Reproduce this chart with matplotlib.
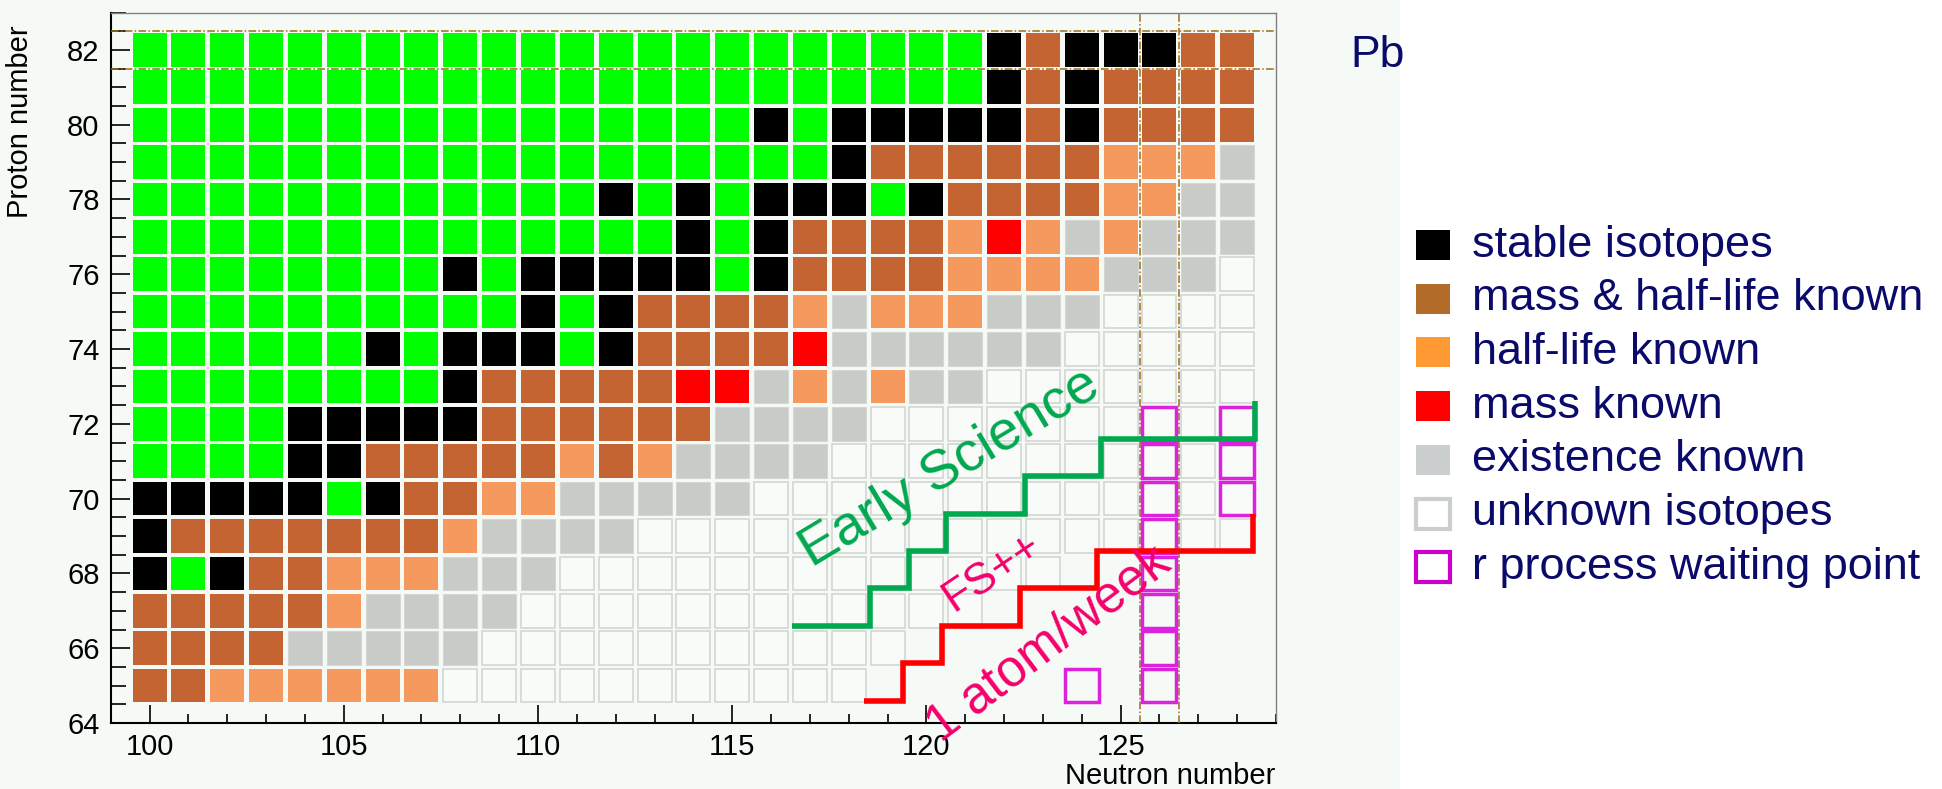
import matplotlib
matplotlib.use("Agg")
import matplotlib.pyplot as plt
from matplotlib.patches import Rectangle

plt.rcParams["font.family"] = ["Liberation Sans", "DejaVu Sans"]

# neutron numbers of the columns and proton numbers of the rows (top row first)
N_VALUES = list(range(100, 129))
Z_VALUES = list(range(82, 64, -1))

# one character per isotope, N = 100 ... 128
# G green (not in legend), K stable, B mass & half-life, O half-life,
# R mass, S existence, U unknown, . nothing drawn
ROWS = [
    "GGGGGGGGGGGGGGGGGGGGGGKBKKKBB",  # 82
    "GGGGGGGGGGGGGGGGGGGGGGKBKBBBB",  # 81
    "GGGGGGGGGGGGGGGGKGKKKKKBKBBBB",  # 80
    "GGGGGGGGGGGGGGGGGGKBBBBBBOOOS",  # 79
    "GGGGGGGGGGGGKGKGKKKGKBBBBOOSS",  # 78
    "GGGGGGGGGGGGGGKGKBBBBOROSOSSS",  # 77
    "GGGGGGGGKGKKKKKGKBBBBOOOOSSSU",  # 76
    "GGGGGGGGGGKGKBBBBOSOOOSSSUUUU",  # 75
    "GGGGGGKGKKKGKBBBBRSSSSSSUUUUU",  # 74
    "GGGGGGGGKBBBBBRRSOSOSSUUUUUUU",  # 73
    "GGGGKKKKKBBBBBBSSSSUUUUUUUUUU",  # 72
    "GGGGKKBBBBBOBOSSSSUUUUUUUUUUU",  # 71
    "KKKKKGKBBOOSSSSSUUUUUUUUUUUUU",  # 70
    "KBBBBBBBOSSSSUUUUUUUUUUUUUUUU",  # 69
    "KGKBBOOOSSSUUUUUUUUUUUUU.....",  # 68
    "BBBBBOSSSSUUUUUUUUUUUU.......",  # 67
    "BBBBSSSSSUUUUUUUUUUU.........",  # 66
    "BBOOOOOOUUUUUUUUUUU..........",  # 65
]

WAITING_N = [124, 126, 126, 126, 126, 126, 126, 126, 126, 128, 128, 128]
WAITING_Z = [65, 65, 66, 67, 68, 69, 70, 71, 72, 70, 71, 72]

# step lines (steps-post)
EARLY_N = [116.55, 118.55, 119.55, 120.5, 122.55, 124.5, 128.45]
EARLY_Z = [66.6, 67.6, 68.6, 69.6, 70.6, 71.6, 72.6]
ATOM_N = [118.4, 119.4, 120.4, 122.4, 124.4, 128.4]
ATOM_Z = [64.6, 65.6, 66.6, 67.6, 68.6, 69.6]

MAGIC_Z = [81.5, 82.5]
MAGIC_N = [125.5, 126.5]

LEGEND_LABELS = [
    "stable isotopes",
    "mass & half-life known",
    "half-life known",
    "mass known",
    "existence known",
    "unknown isotopes",
    "r process waiting point",
]

CELL_COLORS = {
    "G": "#00ff00",
    "K": "#000000",
    "B": "#c46432",
    "O": "#f5995f",
    "R": "#ff0000",
    "S": "#c8cbc8",
    "U": "#f9fbf9",
}
LEGEND_FACE = ["#000000", "#b36b29", "#ff9933", "#ff0000", "#cacecf", "#ffffff", "#ffffff"]
LEGEND_EDGE = ["#000000", "#b36b29", "#ff9933", "#ff0000", "#cacecf", "#cacecf", "#cc00cc"]

BG_LIGHT = "#f5faf6"
NAVY = "#0a0a6a"
GREEN = "#00a84f"
PINK = "#f5006b"
MAGENTA = "#dd22dd"
DASH = "#9c6e1c"

W_PX, H_PX = 1942, 789
fig = plt.figure(figsize=(W_PX / 100, H_PX / 100), dpi=100, facecolor="white")

# background / legend layer in pixel coordinates
bg = fig.add_axes([0, 0, 1, 1])
bg.set_xlim(0, W_PX)
bg.set_ylim(H_PX, 0)
bg.axis("off")
bg.add_patch(Rectangle((0, 0), 1400, H_PX, color=BG_LIGHT, lw=0))

bg.text(1350, 55, "Pb", fontsize=32, color=NAVY, ha="left", va="center")

leg_y0, leg_dy = 245, 53.7
for i, lab in enumerate(LEGEND_LABELS):
    y = leg_y0 + i * leg_dy
    lw = 0 if i < 5 else 3.0
    bg.add_patch(Rectangle((1416, y - 15), 34, 30, facecolor=LEGEND_FACE[i],
                           edgecolor=LEGEND_EDGE[i], lw=lw))
    bg.text(1472, y, lab, fontsize=32.5, color=NAVY, ha="left", va="center")

bg.text(20, 25, "Proton number", fontsize=21, rotation=90, ha="center", va="top")
bg.text(1275, 784, "Neutron number", fontsize=21, ha="right", va="baseline")

# main chart
ax = fig.add_axes([110.7 / W_PX, 1 - 723 / H_PX, (1276 - 110.7) / W_PX, (723 - 12.5) / H_PX])
ax.set_facecolor("none")
ax.set_xlim(99, 129)
ax.set_ylim(64, 83)

cw, ch = 0.875, 0.9
for z, row in zip(Z_VALUES, ROWS):
    for n, code in zip(N_VALUES, row):
        if code == ".":
            continue
        if code == "U":
            ax.add_patch(Rectangle((n - cw / 2, z - ch / 2), cw, ch, facecolor=CELL_COLORS["U"],
                                   edgecolor="#d0d3d0", lw=1.1, zorder=2))
        elif code == "S":
            ax.add_patch(Rectangle((n - cw / 2, z - ch / 2), cw, ch, facecolor=CELL_COLORS["S"],
                                   edgecolor="#d4d7d4", lw=0.8, zorder=2))
        else:
            ax.add_patch(Rectangle((n - cw / 2, z - ch / 2), cw, ch, facecolor=CELL_COLORS[code],
                                   lw=0, zorder=2))

for n, z in zip(WAITING_N, WAITING_Z):
    ax.add_patch(Rectangle((n - cw / 2, z - ch / 2), cw, ch, facecolor="none",
                           edgecolor=MAGENTA, lw=2.5, zorder=4))

for z in MAGIC_Z:
    ax.axhline(z, color=DASH, lw=1.1, ls=(0, (5, 1.5, 1, 1.5)), zorder=3)
for n in MAGIC_N:
    ax.axvline(n, color=DASH, lw=1.1, ls=(0, (5, 1.5, 1, 1.5)), zorder=3)

ax.plot(EARLY_N, EARLY_Z, drawstyle="steps-post", color=GREEN, lw=4,
        solid_joinstyle="miter", solid_capstyle="butt", zorder=5)
ax.plot(ATOM_N, ATOM_Z, drawstyle="steps-post", color="#ff0000", lw=4,
        solid_joinstyle="miter", solid_capstyle="butt", zorder=5)

ax.text(120.6, 70.8, "Early Science", fontsize=40, color=GREEN, rotation=31,
        rotation_mode="anchor", ha="center", va="center", zorder=6)
ax.text(121.7, 68.05, "FS++", fontsize=32, color=PINK, rotation=34,
        rotation_mode="anchor", ha="center", va="center", zorder=6)
ax.text(123.15, 66.1, "1 atom/week", fontsize=37, color=PINK, rotation=37,
        rotation_mode="anchor", ha="center", va="center", zorder=6)

ax.set_xticks(range(100, 126, 5))
ax.set_xticks(range(99, 130), minor=True)
ax.set_yticks(range(64, 83, 2))
ax.set_yticks([64 + 0.5 * k for k in range(39)], minor=True)
ax.tick_params(axis="both", which="both", direction="in", labelsize=21, width=1.2)
ax.tick_params(axis="x", which="major", length=13, pad=7)
ax.tick_params(axis="x", which="minor", length=6.5)
ax.tick_params(axis="y", which="major", length=14, pad=8)
ax.tick_params(axis="y", which="minor", length=10.5)

for side in ["left", "bottom"]:
    ax.spines[side].set_linewidth(1.5)
    ax.spines[side].set_color("black")
for side in ["top", "right"]:
    ax.spines[side].set_linewidth(1.0)
    ax.spines[side].set_color("#808080")

fig.savefig("out.png", dpi=100, facecolor="white")
